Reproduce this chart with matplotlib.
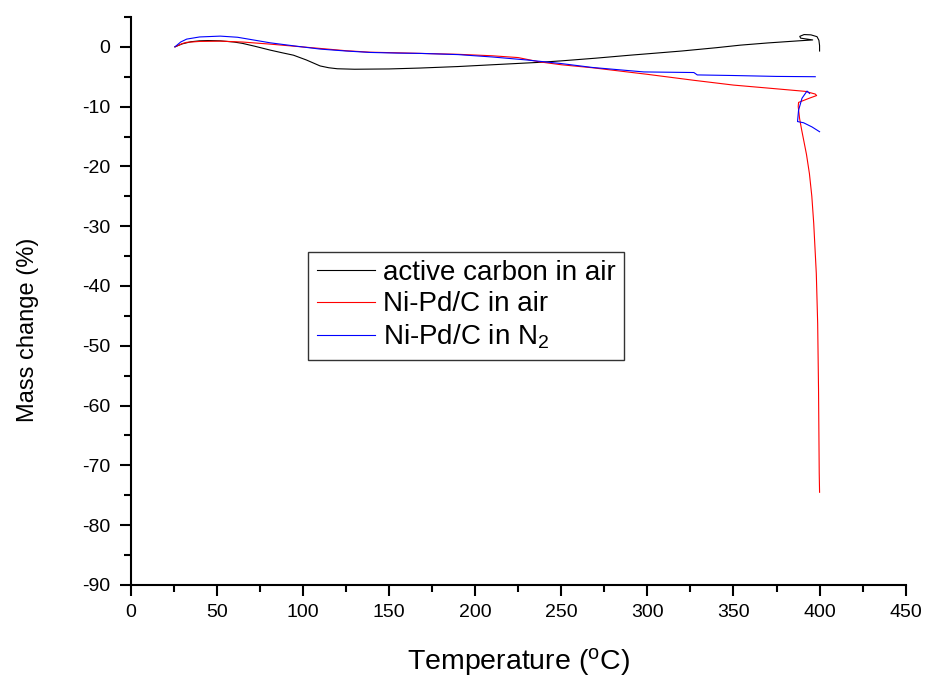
import numpy as np
import matplotlib
matplotlib.use("Agg")
import matplotlib.pyplot as plt
from matplotlib.ticker import MultipleLocator

plt.rcParams['font.family'] = ['Liberation Sans', 'DejaVu Sans']
plt.rcParams['mathtext.fontset'] = 'custom'
plt.rcParams['mathtext.rm'] = 'Liberation Sans'
plt.rcParams['mathtext.it'] = 'Liberation Sans:italic'
plt.rcParams['axes.unicode_minus'] = False

# active carbon in air
carbon_t = [25.7, 30, 35, 40, 45, 52, 60, 65, 72, 81, 88, 94.5, 102, 106, 110, 115,
            120, 130, 150, 168, 190, 210, 237, 250, 270, 290, 303, 320, 340, 354,
            370, 387.8, 396, 389, 388.5, 391, 395, 398.5, 399.6, 400, 400]
carbon_m = [0.0, 0.5, 0.85, 1.0, 1.05, 1.0, 0.8, 0.57, 0.1, -0.55, -1.0, -1.4, -2.2,
            -2.7, -3.2, -3.5, -3.67, -3.75, -3.7, -3.55, -3.3, -3.0, -2.6, -2.35,
            -1.9, -1.4, -1.1, -0.7, -0.15, 0.28, 0.65, 1.0, 1.15, 1.45, 1.75, 2.05,
            2.0, 1.7, 1.1, 0.2, -0.7]

# Ni-Pd/C in air
air_t = [25.7, 30, 32.5, 40, 52, 65, 81, 95, 110, 125, 139, 155, 168, 190, 210, 225,
         237, 250, 268, 300, 327, 350, 370, 391.7, 397.5, 398.3, 394, 387.8, 387.6,
         388.4, 389.6, 390.9, 392.4, 394.1, 395.5, 396.6, 398.1, 398.9, 399.4, 399.8,
         400.0]
air_m = [0.0, 0.55, 0.75, 0.9, 0.95, 0.8, 0.45, 0.1, -0.27, -0.65, -0.9, -1.0, -1.1,
         -1.25, -1.5, -1.8, -2.5, -3.0, -3.5, -4.6, -5.6, -6.4, -6.9, -7.45, -7.9,
         -8.15, -8.6, -9.3, -10.0, -12.0, -13.9, -15.8, -18.0, -21.2, -25.0, -29.5,
         -37.9, -46.3, -57.4, -71.3, -74.5]

# Ni-Pd/C in N2 (two segments)
n2_t = [25.7, 29, 32.5, 40, 52, 62, 81, 95, 110, 125, 139, 155, 168, 190, 210, 230,
        250, 268, 298, 327, 329, 350, 375, 397.5, np.nan,
        394.2, 392.7, 389.8, 387.8, 387.2, 390.7, 395.6, 400.0]
n2_m = [0.0, 0.8, 1.29, 1.65, 1.79, 1.6, 0.67, 0.15, -0.38, -0.7, -0.94, -1.05, -1.1,
        -1.3, -1.7, -2.2, -2.8, -3.45, -4.2, -4.3, -4.7, -4.8, -4.95, -5.0, np.nan,
        -7.8, -7.4, -8.6, -10.6, -12.5, -12.7, -13.4, -14.2]

fig = plt.figure(figsize=(9.27, 6.77), dpi=100)
ax = fig.add_axes([0.141, 0.136, 0.836, 0.839])

ax.plot(carbon_t, carbon_m, color='black', lw=0.8, label='active carbon in air')
ax.plot(air_t, air_m, color='red', lw=0.8, label='Ni-Pd/C in air')
ax.plot(n2_t, n2_m, color='blue', lw=0.8, label=r'Ni-Pd/C in N$_\mathregular{2}$')

ax.set_xlim(0, 450)
ax.set_ylim(-90, 5)
ax.xaxis.set_major_locator(MultipleLocator(50))
ax.xaxis.set_minor_locator(MultipleLocator(25))
ax.yaxis.set_major_locator(MultipleLocator(10))
ax.yaxis.set_minor_locator(MultipleLocator(5))
ax.spines['top'].set_visible(False)
ax.spines['right'].set_visible(False)
for s in ['left', 'bottom']:
    ax.spines[s].set_linewidth(1.5)
ax.tick_params(which='major', direction='out', length=7.7, width=1.5, labelsize=14, pad=6)
ax.tick_params(which='minor', direction='out', length=4.8, width=1.5)
ax.tick_params(axis='y', which='major', pad=7)

ax.set_xlabel(r'Temperature ($^\mathregular{o}$C)', fontsize=20.5, labelpad=18)
ax.set_ylabel('Mass change (%)', fontsize=17)
ax.yaxis.set_label_coords(-0.118, 0.449)

leg = ax.legend(loc='upper left', bbox_to_anchor=(0.229, 0.587),
                fontsize=20, frameon=True, fancybox=False,
                borderpad=0.3, labelspacing=0.2, handlelength=2.1,
                handletextpad=0.3, borderaxespad=0)
leg.get_frame().set_edgecolor('black')
leg.get_frame().set_linewidth(1.0)

fig.savefig('out.png', dpi=100)
